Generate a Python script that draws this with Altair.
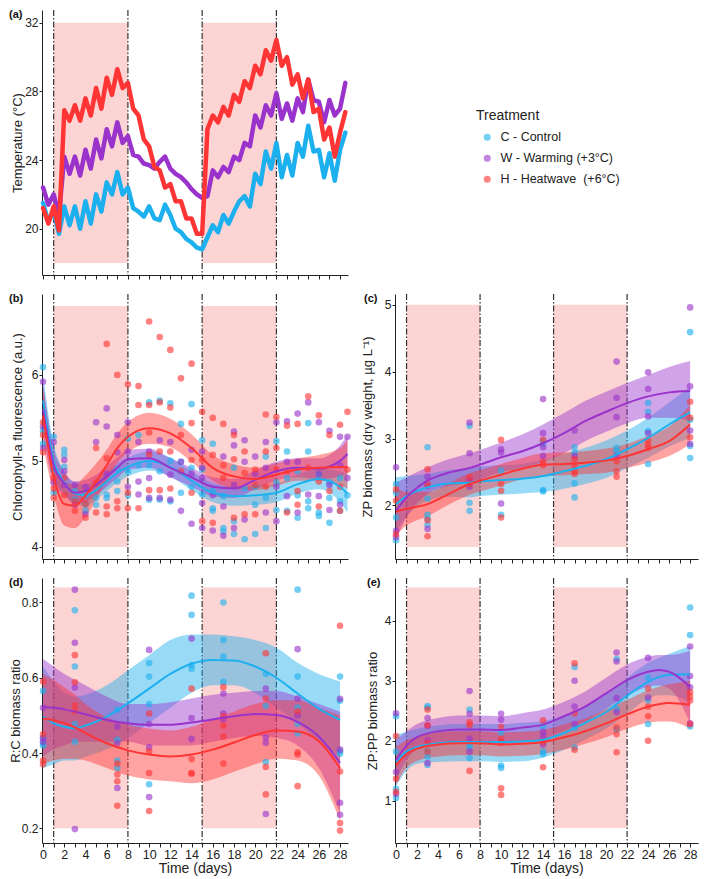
import altair as alt
import pandas as pd

TRT = ["C - Control", "W - Warming (+3°C)", "H - Heatwave\u00a0 (+6°C)"]
COLORS = ["#1DB0EE", "#9933CC", "#FF3434"]
SHADE = "#FCD4D4"
HW_START = [1, 15]
HW_END = [8, 22]
HW_LINES = [1, 8, 15, 22]
X_TICKS = list(range(0, 29))
X_DOMAIN = [-0.1, 28.75]

# ---------------- (a) temperature, every half day ----------------
TEMP_T = [i * 0.5 for i in range(58)]
TEMP_C = [21.5, 20.4, 21.0, 19.7, 21.3, 20.2, 21.3, 20.0, 21.6, 20.3, 22.0, 21.0, 22.7, 22.0, 23.3, 22.0,
          22.4, 21.2, 21.0, 20.7, 21.3, 20.6, 20.5, 21.4, 20.8, 20.0, 19.8, 19.4, 19.2, 18.9, 18.8, 19.5,
          20.2, 19.8, 20.8, 20.3, 21.0, 21.6, 21.9, 21.3, 23.2, 22.6, 24.5, 23.5, 25.0, 23.0, 24.3, 23.1,
          25.0, 24.2, 26.0, 24.5, 24.6, 23.0, 24.4, 22.8, 24.6, 25.6]
TEMP_W = [22.4, 21.4, 22.0, 20.8, 24.2, 23.2, 24.2, 23.1, 24.6, 23.5, 25.2, 24.1, 25.8, 24.8, 26.2, 25.0,
          25.4, 24.3, 24.2, 23.8, 23.7, 23.5, 23.9, 24.2, 23.5, 23.2, 23.0, 22.7, 22.3, 22.0, 21.8, 21.9,
          23.4, 23.0, 23.6, 23.3, 24.2, 24.0, 25.0, 24.8, 26.6, 25.9, 27.2, 26.6, 27.9, 26.4, 27.3, 26.3,
          27.6, 26.8, 28.7, 27.5, 27.4, 26.2, 27.5, 26.6, 27.0, 28.5]
TEMP_H = [21.2, 20.3, 21.3, 19.9, 26.9, 26.3, 27.2, 26.3, 27.6, 26.6, 28.2, 27.0, 28.8, 27.8, 29.3, 28.2,
          28.5, 27.0, 26.6, 25.2, 24.8, 23.6, 23.4, 22.4, 22.6, 21.6, 21.6, 20.6, 20.6, 19.7, 19.7, 25.8,
          26.6, 26.2, 27.1, 26.6, 27.8, 27.4, 28.6, 28.2, 29.5, 29.0, 30.4, 29.8, 31.0, 29.5, 30.0, 28.4,
          29.0, 27.6, 28.7, 26.8, 27.0, 25.2, 25.9, 24.2, 25.6, 26.8]

# ---------------- (b) chlorophyll-a ----------------
B_PTS = {
    "C": {0: [6.09, 5.35, 5.2], 1: [5.28, 4.63, 4.9], 2: [5.13, 5.07, 4.93], 3: [4.65, 4.55], 4: [4.49, 4.42, 4.6],
          5: [4.57, 4.49], 6: [4.61, 4.57], 7: [4.76, 4.65, 4.9], 8: [5.26, 4.88, 4.6], 9: [5.3, 4.95],
          10: [5.68, 4.55, 4.95], 11: [5.7, 4.88, 4.55], 12: [5.67, 4.53, 5.0], 13: [5.43, 4.99, 4.63],
          14: [5.66, 4.92, 4.7], 15: [5.24, 4.61, 4.9], 16: [5.2, 4.65, 4.45, 4.42], 17: [4.59, 4.22, 4.18],
          18: [4.92, 4.3, 4.15], 19: [4.68, 4.09], 20: [4.49, 4.15, 4.7], 21: [5.05, 4.57, 4.22],
          22: [5.23, 4.43, 4.75], 23: [5.11, 4.42, 4.8], 24: [4.88, 4.34, 4.6], 25: [5.44, 5.11, 4.53, 4.45],
          26: [4.84, 4.4, 4.36], 27: [4.57, 4.28, 4.75], 28: [4.53, 4.42, 4.8], 28.7: [4.6]},
    "W": {0: [5.92, 5.4, 5.15], 1: [5.22, 4.75], 2: [5.01, 4.88, 4.72], 3: [4.72, 4.49], 4: [4.38, 4.7],
          5: [5.45, 5.22], 6: [5.61, 5.4, 4.85], 7: [5.3, 5.1], 8: [5.45, 5.11, 4.7], 9: [5.22, 4.76, 4.61],
          10: [5.11, 4.8, 4.57], 11: [5.24, 4.57], 12: [5.22, 4.84, 4.55], 13: [4.99, 4.42],
          14: [5.13, 4.27, 4.85], 15: [5.11, 4.92, 4.8, 4.51, 4.22], 16: [4.19, 4.6], 17: [5.05, 4.47, 4.13],
          18: [5.34, 5.18, 4.72, 4.22], 19: [5.24, 4.99, 4.32], 20: [5.05, 4.85], 21: [5.22, 4.92, 4.4],
          22: [5.45, 4.7, 4.3], 23: [5.46, 4.99, 4.59], 24: [5.55, 4.99, 4.4], 25: [5.68, 4.61],
          26: [5.45, 4.59, 4.85], 27: [5.35, 4.72, 4.43], 28: [5.28, 4.49, 4.95], 28.7: [5.28, 4.8]},
    "H": {0: [5.45, 5.3, 5.1], 1: [4.8, 4.68, 4.57], 2: [4.8, 4.6], 3: [4.53, 4.42], 4: [4.34, 4.5],
          5: [5.15, 4.4, 4.75], 6: [6.36, 5.03, 4.47, 4.38], 7: [6.0, 4.53, 4.45], 8: [5.89, 4.63, 4.45],
          9: [5.87, 5.65, 4.45], 10: [6.62, 5.65, 5.33, 5.07, 4.66], 11: [6.44, 5.68, 5.11, 4.66],
          12: [6.29, 5.62, 5.11, 4.68], 13: [5.96, 5.3, 4.88], 14: [6.13, 5.44, 5.01, 4.63],
          15: [5.57, 5.01, 4.3], 16: [5.5, 5.07, 4.28], 17: [5.43, 4.95, 4.8], 18: [5.3, 5.02, 4.34],
          19: [5.11, 4.86, 4.38], 20: [4.9, 4.72, 4.38], 21: [5.54, 5.11, 4.7], 22: [5.51, 5.15, 4.9],
          23: [5.41, 4.88, 4.4], 24: [5.43, 4.65, 4.49], 25: [5.75, 4.92], 26: [5.53, 4.76, 4.47],
          27: [5.3, 4.65], 28: [5.42, 4.7, 4.42], 28.7: [5.57, 4.9]},
}
B_T = [0, 1, 2, 3, 4, 5, 6, 7, 8, 10, 12, 14, 16, 18, 20, 22, 24, 26, 28, 28.7]
B_FIT = {
    "C": ([5.7, 5.0, 4.75, 4.62, 4.6, 4.66, 4.76, 4.86, 4.93, 5.0, 4.93, 4.77, 4.63, 4.59, 4.6, 4.63, 4.73, 4.79, 4.7, 4.62],
          [5.4, 4.8, 4.62, 4.5, 4.48, 4.55, 4.65, 4.75, 4.82, 4.89, 4.82, 4.66, 4.52, 4.48, 4.49, 4.52, 4.62, 4.67, 4.52, 4.4],
          [6.0, 5.2, 4.88, 4.74, 4.72, 4.77, 4.87, 4.97, 5.04, 5.11, 5.04, 4.88, 4.74, 4.7, 4.71, 4.74, 4.84, 4.91, 4.88, 4.84]),
    "W": ([5.6, 4.95, 4.74, 4.63, 4.65, 4.72, 4.82, 4.92, 5.02, 5.03, 4.92, 4.81, 4.7, 4.68, 4.78, 4.88, 4.92, 4.91, 5.0, 5.08],
          [5.3, 4.75, 4.6, 4.5, 4.52, 4.6, 4.7, 4.8, 4.9, 4.92, 4.81, 4.7, 4.59, 4.57, 4.67, 4.77, 4.81, 4.79, 4.82, 4.85],
          [5.9, 5.15, 4.88, 4.76, 4.78, 4.84, 4.94, 5.04, 5.13, 5.14, 5.03, 4.92, 4.81, 4.79, 4.89, 4.99, 5.03, 5.03, 5.18, 5.3]),
    "H": ([5.53, 4.82, 4.5, 4.48, 4.6, 4.76, 4.95, 5.15, 5.28, 5.38, 5.32, 5.15, 4.92, 4.82, 4.79, 4.84, 4.9, 4.92, 4.93, 4.93],
          [5.2, 4.6, 4.25, 4.22, 4.35, 4.55, 4.77, 4.98, 5.1, 5.2, 5.16, 4.99, 4.77, 4.68, 4.66, 4.71, 4.77, 4.77, 4.72, 4.68],
          [5.85, 5.05, 4.75, 4.73, 4.83, 4.97, 5.13, 5.32, 5.45, 5.56, 5.49, 5.31, 5.07, 4.96, 4.92, 4.97, 5.03, 5.07, 5.15, 5.25]),
}

# ---------------- (c) ZP biomass ----------------
C_PTS = {
    "C": {0: [2.32, 2.19, 1.82, 1.48], 3: [2.87, 2.1, 1.86, 1.8, 1.71], 7: [3.19, 2.04, 1.92], 10: [2.52, 1.86],
          14: [2.96, 2.92, 2.23, 2.21], 17: [2.87, 2.79, 2.33, 2.12], 21: [2.86, 2.81],
          24: [3.53, 3.4, 3.11, 2.62], 28: [4.59, 3.28, 2.89, 2.71]},
    "W": {0: [2.57, 1.62, 1.53], 3: [2.43, 2.29, 1.65], 7: [3.24, 2.78, 2.38, 2.28], 10: [2.84, 2.79, 2.03],
          14: [3.59, 3.08, 2.87, 2.74], 17: [3.12, 2.74], 21: [4.15, 3.61, 3.32, 2.74],
          24: [3.99, 3.74, 3.33, 3.08], 28: [4.96, 3.78, 3.12, 2.92]},
    "H": {0: [2.24, 2.07, 1.57], 3: [2.54, 2.32, 1.78, 1.54], 7: [2.42, 2.32], 10: [2.98, 2.32, 2.22, 1.82],
          14: [2.98, 2.65, 2.6], 17: [2.69, 2.59, 2.51, 2.47], 21: [2.66, 2.51, 2.43],
          24: [2.97, 2.91, 2.86], 28: [3.55, 3.31, 3.02]},
}
C_T = [0, 1, 3, 5, 7, 8, 10, 12, 14, 16, 18, 20, 22, 24, 26, 28]
C_FIT = {
    "C": ([2.02, 2.14, 2.27, 2.33, 2.34, 2.36, 2.38, 2.40, 2.44, 2.51, 2.59, 2.69, 2.84, 3.01, 3.21, 3.39],
          [1.62, 1.84, 2.07, 2.13, 2.12, 2.14, 2.16, 2.18, 2.20, 2.25, 2.32, 2.41, 2.56, 2.71, 2.88, 3.01],
          [2.42, 2.44, 2.47, 2.53, 2.56, 2.58, 2.60, 2.62, 2.68, 2.77, 2.86, 2.97, 3.12, 3.31, 3.54, 3.77]),
    "W": ([1.92, 2.12, 2.37, 2.49, 2.56, 2.61, 2.72, 2.81, 2.93, 3.08, 3.26, 3.40, 3.53, 3.63, 3.69, 3.71],
          [1.50, 1.82, 2.17, 2.29, 2.34, 2.39, 2.50, 2.56, 2.65, 2.78, 2.96, 3.10, 3.23, 3.31, 3.31, 3.26],
          [2.34, 2.42, 2.57, 2.69, 2.78, 2.83, 2.94, 3.06, 3.21, 3.38, 3.56, 3.70, 3.83, 3.95, 4.07, 4.16]),
    "H": ([1.91, 1.95, 2.02, 2.17, 2.32, 2.37, 2.46, 2.55, 2.61, 2.62, 2.64, 2.67, 2.74, 2.84, 2.96, 3.21],
          [1.56, 1.70, 1.84, 2.01, 2.16, 2.21, 2.30, 2.39, 2.44, 2.45, 2.47, 2.49, 2.56, 2.64, 2.74, 2.91],
          [2.26, 2.20, 2.20, 2.33, 2.48, 2.53, 2.62, 2.71, 2.78, 2.79, 2.81, 2.85, 2.92, 3.04, 3.18, 3.51]),
}

# ---------------- (d) R:C ----------------
D_PTS = {
    "C": {0: [0.565, 0.44, 0.426, 0.42], 3: [0.779, 0.63, 0.477, 0.43], 7: [0.515, 0.435, 0.38, 0.36],
          10: [0.639, 0.603, 0.53, 0.317], 14: [0.818, 0.767, 0.634, 0.624], 17: [0.8, 0.7, 0.656, 0.589],
          21: [0.61, 0.525, 0.376], 24: [0.834, 0.603, 0.521, 0.477, 0.452], 28: [0.603, 0.539, 0.405, 0.398]},
    "W": {0: [0.52, 0.44, 0.43], 3: [0.834, 0.693, 0.574, 0.198], 7: [0.47, 0.426, 0.307],
          10: [0.674, 0.477, 0.415, 0.283], 14: [0.704, 0.493, 0.437], 17: [0.558, 0.505, 0.49],
          21: [0.571, 0.441, 0.427, 0.238], 24: [0.676, 0.545, 0.5], 28: [0.544, 0.409, 0.268, 0.236]},
    "H": {0: [0.59, 0.45, 0.38, 0.37], 3: [0.66, 0.588, 0.526, 0.511], 7: [0.372, 0.343, 0.325, 0.26],
          10: [0.505, 0.404, 0.347, 0.246], 14: [0.571, 0.384, 0.347, 0.345],
          17: [0.575, 0.498, 0.473, 0.444, 0.372], 21: [0.665, 0.545, 0.363, 0.29],
          24: [0.511, 0.402, 0.396, 0.312], 28: [0.738, 0.351, 0.214, 0.194]},
}
D_T = [0, 1, 2, 3, 4, 6, 8, 10, 12, 14, 16, 18, 20, 22, 24, 26, 28]
D_FIT = {
    "C": ([0.497, 0.479, 0.47, 0.466, 0.473, 0.497, 0.532, 0.571, 0.61, 0.637, 0.647, 0.646, 0.63, 0.6, 0.558, 0.518, 0.488],
          [0.36, 0.37, 0.38, 0.38, 0.39, 0.41, 0.44, 0.48, 0.52, 0.56, 0.58, 0.58, 0.56, 0.52, 0.48, 0.43, 0.39],
          [0.63, 0.59, 0.56, 0.55, 0.555, 0.58, 0.62, 0.66, 0.70, 0.715, 0.715, 0.71, 0.70, 0.68, 0.64, 0.61, 0.59]),
    "W": ([0.523, 0.52, 0.516, 0.51, 0.503, 0.488, 0.479, 0.475, 0.475, 0.481, 0.489, 0.498, 0.504, 0.501, 0.483, 0.444, 0.374],
          [0.39, 0.41, 0.42, 0.43, 0.43, 0.43, 0.43, 0.42, 0.42, 0.42, 0.43, 0.44, 0.445, 0.44, 0.42, 0.36, 0.24],
          [0.65, 0.63, 0.61, 0.595, 0.58, 0.55, 0.53, 0.53, 0.535, 0.545, 0.555, 0.56, 0.565, 0.565, 0.55, 0.53, 0.51]),
    "H": ([0.492, 0.487, 0.479, 0.468, 0.453, 0.426, 0.407, 0.396, 0.391, 0.396, 0.409, 0.428, 0.448, 0.46, 0.457, 0.431, 0.36],
          [0.37, 0.38, 0.385, 0.385, 0.38, 0.36, 0.34, 0.33, 0.325, 0.32, 0.33, 0.35, 0.37, 0.385, 0.38, 0.34, 0.22],
          [0.61, 0.595, 0.575, 0.555, 0.53, 0.495, 0.475, 0.465, 0.46, 0.47, 0.49, 0.51, 0.53, 0.54, 0.54, 0.52, 0.5]),
}

# ---------------- (e) ZP:PP ----------------
E_PTS = {
    "C": {0: [2.41, 1.82, 1.2, 1.05], 3: [2.58, 2.55, 1.83, 1.74, 1.6], 7: [2.52, 1.94, 1.89, 1.71],
          10: [2.14, 1.59, 1.55], 14: [2.24, 1.82, 1.78], 17: [3.23, 2.22, 1.89], 21: [3.36, 2.53, 2.19],
          24: [3.05, 2.67, 2.28], 28: [4.22, 3.76, 2.24]},
    "W": {0: [2.46, 1.48, 1.12], 3: [2.38, 2.25, 2.01, 1.63], 7: [2.83, 2.45, 2.04, 1.82], 10: [2.45, 2.35, 1.98],
          14: [2.15, 2.08, 1.94], 17: [3.0, 2.57, 2.28], 21: [3.47, 3.32, 2.71, 2.48], 24: [3.38, 2.72],
          28: [3.57, 3.08, 2.89, 2.29]},
    "H": {0: [2.08, 1.37, 1.15], 3: [2.52, 2.26, 1.97, 1.82], 7: [2.31, 2.26, 1.5], 10: [2.23, 2.03, 1.97, 1.21, 1.1],
          14: [2.34, 1.98, 1.56], 17: [3.29, 2.46, 1.85], 21: [2.22, 2.11, 1.81], 24: [2.87, 2.57, 2.41, 2.0],
          28: [2.81, 2.74, 2.67, 2.28]},
}
E_T = [0, 1, 2, 4, 6, 8, 10, 12, 14, 16, 18, 20, 22, 24, 25, 26, 28]
E_FIT = {
    "C": ([1.65, 1.82, 1.9, 1.96, 1.98, 1.98, 1.98, 1.99, 2.02, 2.13, 2.3, 2.48, 2.75, 2.98, 3.06, 3.1, 3.11],
          [1.25, 1.5, 1.62, 1.65, 1.66, 1.66, 1.65, 1.66, 1.72, 1.85, 2.02, 2.2, 2.45, 2.7, 2.76, 2.76, 2.65],
          [2.1, 2.15, 2.2, 2.26, 2.28, 2.28, 2.28, 2.3, 2.33, 2.42, 2.58, 2.77, 3.05, 3.3, 3.38, 3.45, 3.58]),
    "W": ([1.68, 1.92, 2.06, 2.16, 2.19, 2.19, 2.18, 2.22, 2.27, 2.41, 2.57, 2.79, 3.01, 3.15, 3.18, 3.15, 2.9],
          [1.35, 1.68, 1.86, 1.95, 1.97, 1.97, 1.96, 1.98, 2.03, 2.17, 2.32, 2.53, 2.75, 2.9, 2.92, 2.87, 2.3],
          [2.02, 2.16, 2.28, 2.38, 2.42, 2.42, 2.41, 2.46, 2.52, 2.65, 2.82, 3.05, 3.27, 3.4, 3.43, 3.43, 3.5]),
    "H": ([1.59, 1.78, 1.87, 1.94, 1.96, 1.96, 1.94, 1.95, 1.98, 2.06, 2.16, 2.29, 2.44, 2.57, 2.61, 2.63, 2.6],
          [1.28, 1.55, 1.67, 1.74, 1.76, 1.76, 1.74, 1.75, 1.78, 1.85, 1.95, 2.06, 2.2, 2.3, 2.32, 2.32, 2.2],
          [1.9, 2.01, 2.07, 2.14, 2.16, 2.16, 2.14, 2.15, 2.18, 2.27, 2.37, 2.52, 2.68, 2.84, 2.9, 2.94, 3.0]),
}

KEY = {"C": TRT[0], "W": TRT[1], "H": TRT[2]}
FONT = "Liberation Sans"
LW, RW, H = 306, 303, 265


def pts_df(d):
    rows = []
    for k, byday in d.items():
        for day, vals in byday.items():
            for v in vals:
                rows.append({"t": day, "v": v, "trt": KEY[k]})
    return pd.DataFrame(rows)


def fit_df(times, d):
    rows = []
    for k, (mid, lo, hi) in d.items():
        for t, m, l, h in zip(times, mid, lo, hi):
            rows.append({"t": t, "mid": m, "lo": l, "hi": h, "trt": KEY[k]})
    return pd.DataFrame(rows)


def x_axis(show):
    if show:
        return alt.Axis(values=X_TICKS, title="Time (days)", tickSize=4, labelPadding=1, titlePadding=1,
                        titleFontSize=14, labelFontSize=12.5, labelOverlap=False, labelFlush=False,
                        labelExpr="datum.value % 2 === 0 ? datum.label : ''")
    return alt.Axis(values=X_TICKS, labels=False, title=None, tickSize=4)


def y_axis(ticks, fmt, title, tx):
    return alt.Axis(values=ticks, format=fmt, title=title, tickSize=3, labelPadding=1,
                    titleX=tx, titleFontSize=13, labelFontSize=12)


cscale = alt.Scale(domain=TRT, range=COLORS)
xscale = alt.Scale(domain=X_DOMAIN, nice=False, zero=False)


def base_layers(shade, ysc, xax, yax):
    rect_df = pd.DataFrame({"x0": HW_START, "x1": HW_END, "lo": [shade[0]] * 2, "hi": [shade[1]] * 2})
    rect = alt.Chart(rect_df).mark_rect(color=SHADE).encode(
        x=alt.X("x0:Q", scale=xscale, axis=xax), x2="x1:Q",
        y=alt.Y("lo:Q", scale=ysc, axis=yax), y2="hi:Q")
    rules = alt.Chart(pd.DataFrame({"t": HW_LINES})).mark_rule(
        color="#333333", strokeWidth=1.2, strokeDash=[6, 2, 1.5, 2]).encode(
        x=alt.X("t:Q", scale=xscale, axis=xax))
    return rect, rules


def label_layer(lab, dx):
    return alt.Chart(pd.DataFrame({"s": [lab]})).mark_text(
        x=dx, y=5, align="left", baseline="middle", fontSize=11, fontWeight="bold", font=FONT,
        color="#111111").encode(text="s:N")


def panel(lab, pts, times, fit, dom, ticks, fmt, title, tx, shade, show_x, w, dx):
    ysc = alt.Scale(domain=dom, nice=False, zero=False)
    xax = x_axis(show_x)
    yax = y_axis(ticks, fmt, title, tx)
    rect, rules = base_layers(shade, ysc, xax, yax)
    fdf = fit_df(times, fit)
    cenc = alt.Color("trt:N", scale=cscale, legend=None)
    ribbon = alt.Chart(fdf).mark_area(opacity=0.45, interpolate="monotone").encode(
        x=alt.X("t:Q", scale=xscale, axis=xax), y=alt.Y("lo:Q", scale=ysc, axis=yax), y2="hi:Q", color=cenc)
    points = alt.Chart(pts_df(pts)).mark_circle(size=44, opacity=0.62).encode(
        x=alt.X("t:Q", scale=xscale, axis=xax), y=alt.Y("v:Q", scale=ysc, axis=yax), color=cenc)
    line = alt.Chart(fdf).mark_line(strokeWidth=2, interpolate="monotone").encode(
        x=alt.X("t:Q", scale=xscale, axis=xax), y=alt.Y("mid:Q", scale=ysc, axis=yax), color=cenc)
    return alt.layer(rect, rules, ribbon, points, line, label_layer(lab, dx)).properties(width=w, height=H)


# panel (a)
temp_rows = []
for k, series in (("C", TEMP_C), ("W", TEMP_W), ("H", TEMP_H)):
    for t, v in zip(TEMP_T, series):
        temp_rows.append({"t": t, "v": v, "trt": KEY[k]})
temp_df = pd.DataFrame(temp_rows)
ysc_a = alt.Scale(domain=[17.3, 32.75], nice=False, zero=False)
xax_a = x_axis(False)
yax_a = y_axis([20, 24, 28, 32], "d", "Temperature (°C)", -18)
rect_a, rules_a = base_layers((18, 32), ysc_a, xax_a, yax_a)
legend_pts = alt.Chart(temp_df).mark_circle(size=6, opacity=0.6).encode(
    x=alt.X("t:Q", scale=xscale, axis=xax_a), y=alt.Y("v:Q", scale=ysc_a, axis=yax_a),
    color=alt.Color("trt:N", scale=cscale, legend=alt.Legend(
        title="Treatment", orient="none", legendX=434, legendY=99, symbolType="circle", symbolSize=50,
        symbolOpacity=0.6, symbolStrokeWidth=0, titleFontSize=14, titleFontWeight="normal", titleFont=FONT,
        labelFont=FONT, labelFontSize=12.5, rowPadding=8, labelOffset=7, symbolOffset=5, titlePadding=8,
        labelColor="#222222", titleColor="#222222", padding=0)))
temp_lines = alt.Chart(temp_df).mark_line(strokeWidth=4.5, strokeCap="round", strokeJoin="round").encode(
    x=alt.X("t:Q", scale=xscale, axis=xax_a), y=alt.Y("v:Q", scale=ysc_a, axis=yax_a),
    stroke=alt.Stroke("trt:N", scale=cscale, legend=None), detail="trt:N")
pa = alt.layer(rect_a, rules_a, legend_pts, temp_lines, label_layer("(a)", -33)).properties(width=LW, height=H)

pb = panel("(b)", B_PTS, B_T, B_FIT, [3.86, 6.94], [4, 5, 6], "d", "Chlorophyll-a fluorescence (a.u.)", -18,
           (4.0, 6.8), False, LW, -33)
pc = panel("(c)", C_PTS, C_T, C_FIT, [1.2, 5.16], [2, 3, 4, 5], "d", "ZP biomass (dry weight, µg L⁻¹)", -21,
           (1.38, 5.0), False, RW, -31)
pdd = panel("(d)", D_PTS, D_T, D_FIT, [0.161, 0.865], [0.2, 0.4, 0.6, 0.8], ".1f", "R:C biomass ratio", -20,
            (0.2, 0.84), True, LW, -33)
pe = panel("(e)", E_PTS, E_T, E_FIT, [0.3, 4.71], [1, 2, 3, 4], "d", "ZP:PP biomass ratio", -16,
           (0.55, 4.55), True, RW, -28)

blank = alt.Chart(pd.DataFrame({"t": [0.0]})).mark_point(opacity=0).encode(
    x=alt.X("t:Q", axis=None), y=alt.Y("t:Q", axis=None)).properties(width=RW, height=H)

chart = alt.concat(pa, blank, pb, pc, pdd, pe, columns=2, spacing={"row": 19, "column": 47},
                   bounds="flush").resolve_scale(color="independent", stroke="independent").properties(padding=1)

chart = chart.configure(font=FONT).configure_view(stroke=None).configure_axis(
    domainColor="#222222", tickColor="#222222", labelColor="#222222", titleColor="#222222", grid=False,
    labelFont=FONT, titleFont=FONT, titleFontWeight="normal", domainWidth=1)

chart.save("out.html", embed_options={"renderer": "svg", "actions": False})
